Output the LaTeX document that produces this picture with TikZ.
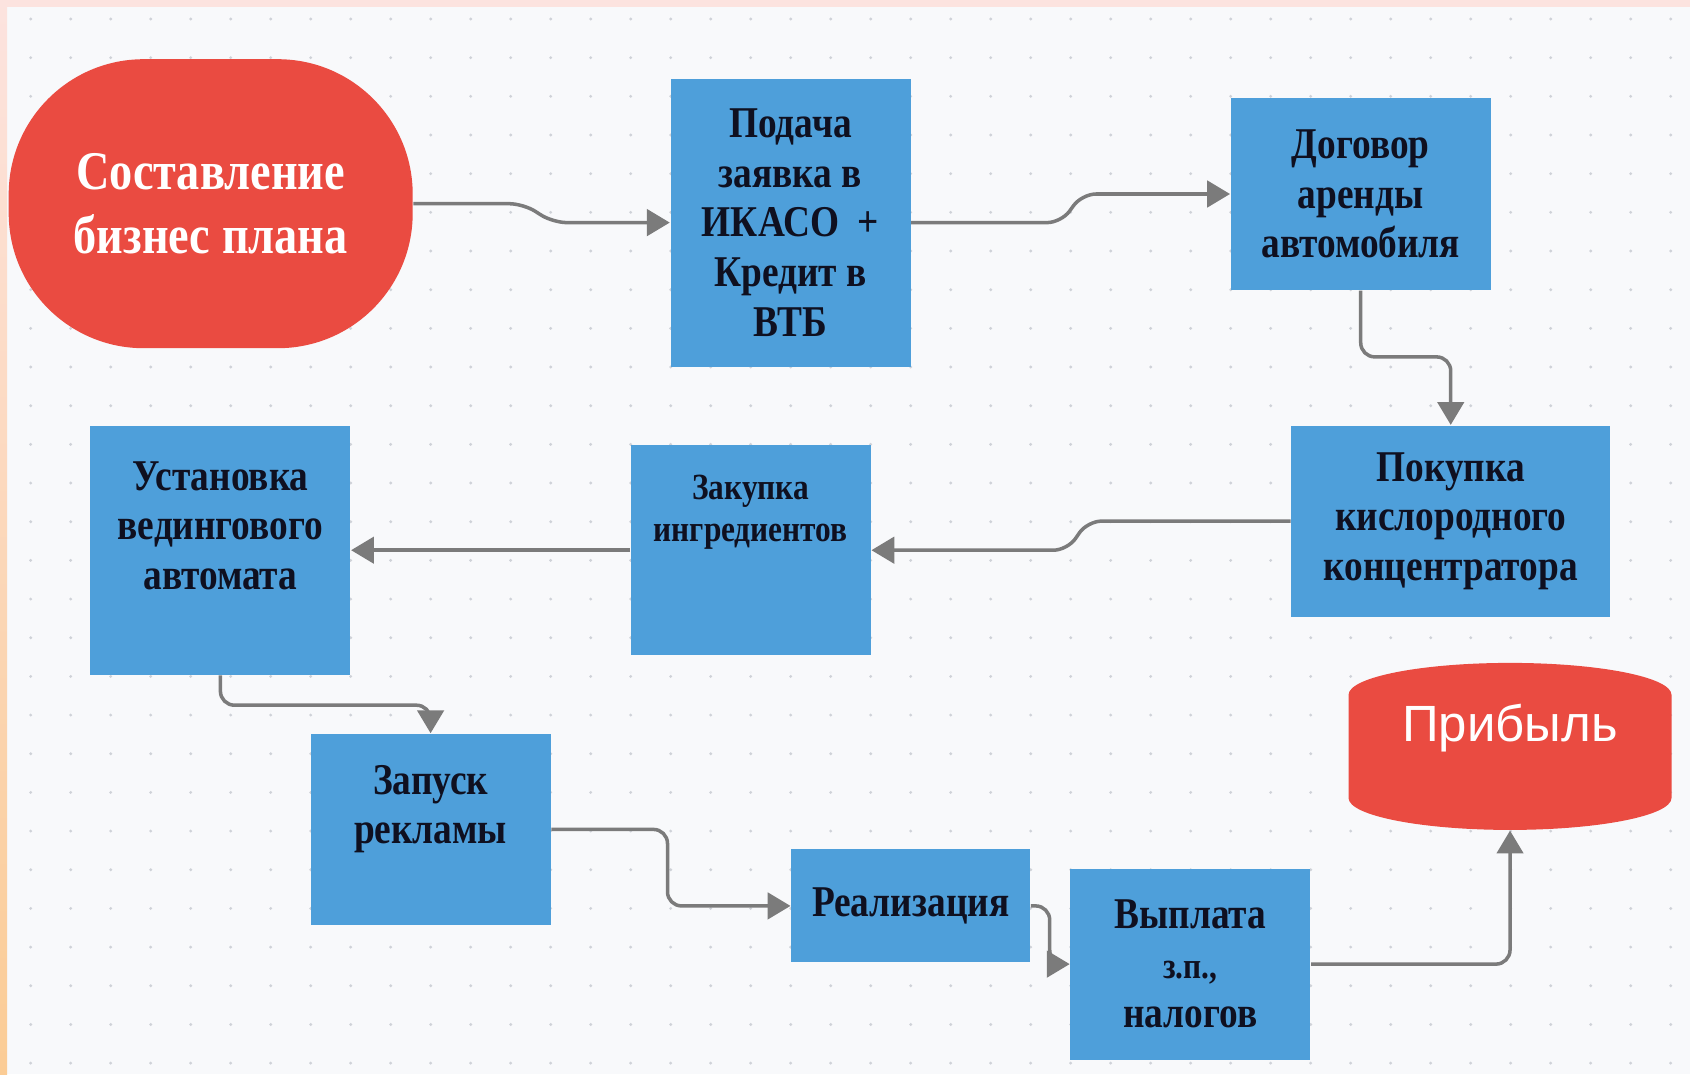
\documentclass[tikz,border=0pt]{standalone}
\usepackage{fontspec}
\setmainfont{Liberation Serif}
\newfontfamily\boxfont[FakeStretch=0.85]{Liberation Serif}
\newfontfamily\proffont{Liberation Sans}
\usetikzlibrary{arrows.meta,shapes.geometric}
\definecolor{bg}{HTML}{F8F9FB}
\definecolor{dotc}{HTML}{CFD2D8}
\definecolor{boxblue}{HTML}{4E9FDA}
\definecolor{redd}{HTML}{EA4B41}
\definecolor{arrgray}{HTML}{7B7B7B}
\definecolor{ink}{HTML}{0F1020}
\definecolor{pinkband}{HTML}{FCE3DF}
\definecolor{orangeband}{HTML}{FAB98A}
\definecolor{peachband}{HTML}{FBCC95}

\begin{document}
\begin{tikzpicture}[
    blok/.style={rectangle, fill=boxblue, text=ink, align=center, inner sep=2pt,
        font=\boxfont\bfseries\fontsize{12.5}{14.1}\selectfont},
    conn/.style={draw=arrgray, line width=1pt, rounded corners=4pt,
        -{Triangle[length=6.5pt,width=7.5pt]}}
]
    \useasboundingbox (0,0) rectangle (16.9,-10.74);
    % paper and dot grid
    \fill[bg] (0,0) rectangle (16.9,-10.74);
    \foreach \i in {0,...,41} {
        \foreach \j in {0,...,27} {
            \fill[dotc] ({0.307+0.4*\i},{-0.19-0.3867*\j}) circle (0.016);
        }
    }
    \fill[pinkband] (0,0) rectangle (16.9,-0.07);
    \shade[top color=pinkband, middle color=orangeband, bottom color=peachband]
        (0,0) rectangle (0.07,-10.74);

    % blocks
    \node[fill=redd, rectangle, rounded corners=1.35cm, minimum width=4.04cm, minimum height=2.89cm,
        text=white, align=center, font=\boxfont\bfseries\fontsize{15.5}{18.1}\selectfont]
        (start) at (2.107,-2.037) {Составление\\бизнес плана};
    \node[blok, minimum width=2.4cm, minimum height=2.88cm] (b1) at (7.905,-2.226)
        {Подача\\заявка в\\ИКАСО~~+\\Кредит в\\ВТБ};
    \node[blok, minimum width=2.6cm, minimum height=1.92cm] (b2) at (13.607,-1.94)
        {Договор\\аренды\\автомобиля};
    \node[blok, minimum width=3.19cm, minimum height=1.91cm] (b3) at (14.507,-5.211)
        {Покупка\\кислородного\\концентратора};
    \node[blok, minimum width=2.4cm, minimum height=2.1cm,
        font=\boxfont\bfseries\fontsize{10.5}{12}\selectfont] (b4) at (7.507,-5.502)
        {Закупка\\ингредиентов\\~\\~};
    \node[blok, minimum width=2.6cm, minimum height=2.49cm] (b5) at (2.204,-5.502)
        {Установка\\ведингового\\автомата\\~};
    \node[blok, minimum width=2.4cm, minimum height=1.91cm] (b6) at (4.306,-8.294)
        {Запуск\\рекламы\\~};
    \node[blok, minimum width=2.39cm, minimum height=1.13cm] (b7) at (9.107,-9.059)
        {Реализация};
    \node[blok, minimum width=2.4cm, minimum height=1.91cm] (b8) at (11.904,-9.641)
        {Выплата\\{\fontsize{10.5}{14.1}\selectfont з.п.,}\\налогов};
    \node[cylinder, shape border rotate=90, aspect=0.28, fill=redd, draw=none,
        inner xsep=32.5pt, inner ysep=2pt,
        minimum width=3.23cm, minimum height=1.67cm, anchor=shape center]
        (prof) at (15.1,-7.464) {};
    \node[text=white, font=\proffont\fontsize{14.5}{17}\selectfont] (proftxt)
        at ([yshift=0.18cm]prof.shape center) {Прибыль};

    % connectors
    \draw[conn] (start.east) -- ([xshift=1.1cm]start.east) -- ([xshift=-1.17cm]b1.west) -- (b1.west);
    \draw[conn] (b1.east) -- ([xshift=1.5cm]b1.east) -- ([xshift=-1.48cm]b2.west) -- (b2.west);
    \draw[conn] (b2.south) |- ([yshift=0.68cm]b3.north) -- (b3.north);
    \draw[conn] (b3.west) -- ([xshift=-2.03cm]b3.west) -- ([xshift=1.96cm]b4.east) -- (b4.east);
    \draw[conn] (b4.west) -- (b5.east);
    \draw[conn] (b5.south) |- ([yshift=0.28cm]b6.north) -- (b6.north);
    \draw[conn] (b6.east) -| ([xshift=-1.23cm]b7.west) -- (b7.west);
    \draw[conn] (b7.east) -| ([xshift=-0.2cm]b8.west) -- (b8.west);
    \draw[conn] (b8.east) -| (prof.south);
\end{tikzpicture}
\end{document}
